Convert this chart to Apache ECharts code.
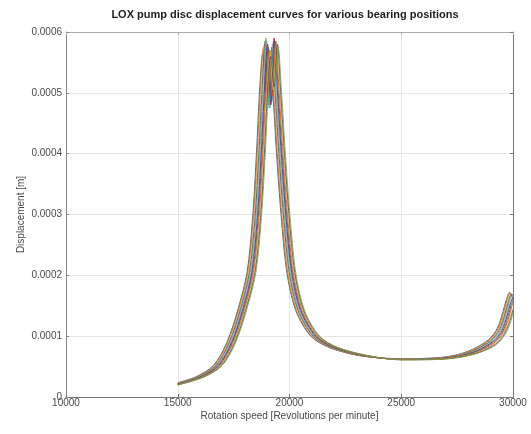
<!DOCTYPE html>
<html>
<head>
<meta charset="utf-8">
<script src="https://cdn.jsdelivr.net/npm/echarts@6/dist/echarts.min.js"></script>
<style>
  html, body { margin: 0; padding: 0; background: #ffffff; }
  #chart { width: 531px; height: 434px; }
</style>
</head>
<body>
<div id="chart"></div>
<script>
// Disc displacement [m] against rotation speed [rpm], one curve per bearing position.
const pos01 = [[15000,2.35e-5],[15800,3.3e-5],[16600,5.2e-5],[17200,9.0e-5],[17700,1.45e-4],[18100,2.05e-4],[18350,2.95e-4],[18520,4.0e-4],[18670,5.1e-4],[18800,5.65e-4],[18950,5.0e-4],[19100,5.5e-4],[19250,5.0e-4],[19420,4.0e-4],[19620,3.0e-4],[19880,2.05e-4],[20280,1.42e-4],[20950,1.0e-4],[21800,8.1e-5],[23200,6.75e-5],[25000,6.3e-5],[26400,6.4e-5],[27400,6.85e-5],[28200,7.85e-5],[28900,9.4e-5],[29300,1.13e-4],[29550,1.40e-4],[29700,1.60e-4],[29850,1.72e-4],[30000,1.60e-4]];
const pos02 = [[15000,2.3e-5],[15835,3.3e-5],[16635,5.2e-5],[17235,9.0e-5],[17735,1.45e-4],[18135,2.05e-4],[18385,2.95e-4],[18555,4.0e-4],[18705,5.1e-4],[18835,5.75e-4],[18985,4.9e-4],[19135,5.6e-4],[19285,5.0e-4],[19455,4.0e-4],[19655,3.0e-4],[19915,2.05e-4],[20315,1.42e-4],[20985,1.0e-4],[21835,8.1e-5],[23235,6.75e-5],[25000,6.28e-5],[26430,6.38e-5],[27430,6.83e-5],[28230,7.83e-5],[28930,9.35e-5],[29330,1.125e-4],[29580,1.39e-4],[29730,1.59e-4],[29880,1.71e-4],[30000,1.63e-4]];
const pos03 = [[15000,2.25e-5],[15870,3.3e-5],[16670,5.2e-5],[17270,9.0e-5],[17770,1.45e-4],[18170,2.05e-4],[18420,2.95e-4],[18590,4.0e-4],[18740,5.1e-4],[18870,5.8e-4],[19020,4.85e-4],[19170,5.7e-4],[19320,5.0e-4],[19490,4.0e-4],[19690,3.0e-4],[19950,2.05e-4],[20350,1.42e-4],[21020,1.0e-4],[21870,8.1e-5],[23270,6.75e-5],[25000,6.25e-5],[26465,6.35e-5],[27465,6.8e-5],[28265,7.8e-5],[28965,9.3e-5],[29365,1.12e-4],[29615,1.38e-4],[29765,1.58e-4],[29915,1.70e-4],[30000,1.66e-4]];
const pos04 = [[15000,2.2e-5],[15910,3.3e-5],[16710,5.2e-5],[17310,9.0e-5],[17810,1.45e-4],[18210,2.05e-4],[18460,2.95e-4],[18630,4.0e-4],[18780,5.1e-4],[18910,5.85e-4],[19060,4.8e-4],[19210,5.75e-4],[19360,5.0e-4],[19530,4.0e-4],[19730,3.0e-4],[19990,2.05e-4],[20390,1.42e-4],[21060,1.0e-4],[21910,8.1e-5],[23310,6.75e-5],[25000,6.22e-5],[26495,6.33e-5],[27495,6.78e-5],[28295,7.75e-5],[28995,9.25e-5],[29395,1.11e-4],[29645,1.37e-4],[29795,1.57e-4],[29945,1.69e-4],[30000,1.675e-4]];
const pos05 = [[15000,2.17e-5],[15945,3.3e-5],[16745,5.2e-5],[17345,9.0e-5],[17845,1.45e-4],[18245,2.05e-4],[18495,2.95e-4],[18665,4.0e-4],[18815,5.1e-4],[18945,5.9e-4],[19095,4.75e-4],[19245,5.8e-4],[19395,5.0e-4],[19565,4.0e-4],[19765,3.0e-4],[20025,2.05e-4],[20425,1.42e-4],[21095,1.0e-4],[21945,8.1e-5],[23345,6.75e-5],[25000,6.2e-5],[26525,6.32e-5],[27525,6.76e-5],[28325,7.7e-5],[29025,9.2e-5],[29425,1.10e-4],[29675,1.36e-4],[29825,1.56e-4],[29975,1.68e-4],[30000,1.675e-4]];
const pos06 = [[15000,2.14e-5],[15980,3.3e-5],[16780,5.2e-5],[17380,9.0e-5],[17880,1.45e-4],[18280,2.05e-4],[18530,2.95e-4],[18700,4.0e-4],[18850,5.1e-4],[18980,5.85e-4],[19130,4.75e-4],[19280,5.85e-4],[19430,5.0e-4],[19600,4.0e-4],[19800,3.0e-4],[20060,2.05e-4],[20460,1.42e-4],[21130,1.0e-4],[21980,8.1e-5],[23380,6.75e-5],[25000,6.2e-5],[26560,6.3e-5],[27560,6.74e-5],[28360,7.65e-5],[29060,9.15e-5],[29460,1.09e-4],[29710,1.35e-4],[29860,1.55e-4],[30000,1.66e-4]];
const pos07 = [[15000,2.1e-5],[16015,3.3e-5],[16815,5.2e-5],[17415,9.0e-5],[17915,1.45e-4],[18315,2.05e-4],[18565,2.95e-4],[18735,4.0e-4],[18885,5.1e-4],[19015,5.8e-4],[19165,4.8e-4],[19315,5.9e-4],[19465,5.0e-4],[19635,4.0e-4],[19835,3.0e-4],[20095,2.05e-4],[20495,1.42e-4],[21165,1.0e-4],[22015,8.1e-5],[23415,6.75e-5],[25000,6.18e-5],[26590,6.28e-5],[27590,6.72e-5],[28390,7.6e-5],[29090,9.1e-5],[29490,1.08e-4],[29740,1.34e-4],[29890,1.54e-4],[30000,1.63e-4]];
const pos08 = [[15000,2.07e-5],[16050,3.3e-5],[16850,5.2e-5],[17450,9.0e-5],[17950,1.45e-4],[18350,2.05e-4],[18600,2.95e-4],[18770,4.0e-4],[18920,5.1e-4],[19050,5.75e-4],[19200,4.85e-4],[19350,5.85e-4],[19500,5.0e-4],[19670,4.0e-4],[19870,3.0e-4],[20130,2.05e-4],[20530,1.42e-4],[21200,1.0e-4],[22050,8.1e-5],[23450,6.75e-5],[25000,6.16e-5],[26625,6.26e-5],[27625,6.7e-5],[28425,7.55e-5],[29125,9.0e-5],[29525,1.07e-4],[29775,1.32e-4],[29925,1.52e-4],[30000,1.59e-4]];
const pos09 = [[15000,2.04e-5],[16090,3.3e-5],[16890,5.2e-5],[17490,9.0e-5],[17990,1.45e-4],[18390,2.05e-4],[18640,2.95e-4],[18810,4.0e-4],[18960,5.1e-4],[19090,5.7e-4],[19240,4.95e-4],[19390,5.85e-4],[19540,5.0e-4],[19710,4.0e-4],[19910,3.0e-4],[20170,2.05e-4],[20570,1.42e-4],[21240,1.0e-4],[22090,8.1e-5],[23490,6.75e-5],[25000,6.15e-5],[26655,6.25e-5],[27655,6.68e-5],[28455,7.5e-5],[29155,8.9e-5],[29555,1.06e-4],[29805,1.30e-4],[29955,1.50e-4],[30000,1.55e-4]];
const pos10 = [[15000,2.02e-5],[16125,3.3e-5],[16925,5.2e-5],[17525,9.0e-5],[18025,1.45e-4],[18425,2.05e-4],[18675,2.95e-4],[18845,4.0e-4],[18995,5.1e-4],[19125,5.65e-4],[19275,5.05e-4],[19425,5.8e-4],[19575,5.0e-4],[19745,4.0e-4],[19945,3.0e-4],[20205,2.05e-4],[20605,1.42e-4],[21275,1.0e-4],[22125,8.1e-5],[23525,6.75e-5],[25000,6.14e-5],[26690,6.22e-5],[27690,6.65e-5],[28490,7.45e-5],[29190,8.8e-5],[29590,1.05e-4],[29840,1.28e-4],[30000,1.46e-4]];
const pos11 = [[15000,2.0e-5],[16160,3.3e-5],[16960,5.2e-5],[17560,9.0e-5],[18060,1.45e-4],[18460,2.05e-4],[18710,2.95e-4],[18880,4.0e-4],[19030,5.1e-4],[19160,5.6e-4],[19310,5.1e-4],[19460,5.8e-4],[19610,5.0e-4],[19780,4.0e-4],[19980,3.0e-4],[20240,2.05e-4],[20640,1.42e-4],[21310,1.0e-4],[22160,8.1e-5],[23560,6.75e-5],[25000,6.12e-5],[26720,6.2e-5],[27720,6.62e-5],[28520,7.4e-5],[29220,8.7e-5],[29620,1.04e-4],[29870,1.26e-4],[30000,1.43e-4]];
const pos12 = [[15000,1.97e-5],[16195,3.3e-5],[16995,5.2e-5],[17595,9.0e-5],[18095,1.45e-4],[18495,2.05e-4],[18745,2.95e-4],[18915,4.0e-4],[19065,5.1e-4],[19195,5.55e-4],[19345,5.15e-4],[19495,5.75e-4],[19645,5.0e-4],[19815,4.0e-4],[20015,3.0e-4],[20275,2.05e-4],[20675,1.42e-4],[21345,1.0e-4],[22195,8.1e-5],[23595,6.75e-5],[25000,6.1e-5],[26750,6.18e-5],[27750,6.6e-5],[28550,7.35e-5],[29250,8.6e-5],[29650,1.03e-4],[29900,1.24e-4],[30000,1.40e-4]];

const bearingPositions = [pos01, pos02, pos03, pos04, pos05, pos06, pos07, pos08, pos09, pos10, pos11, pos12];

// Axis ranges and tick spacing
const speedRange = [10000, 30000];
const speedStep = 5000;
const dispRange = [0, 0.0006];
const dispStep = 0.0001;

const chartTitle = 'LOX pump disc displacement curves for various bearing positions';
const xName = 'Rotation speed [Revolutions per minute]';
const yName = 'Displacement [m]';

// Default line colour order of the plotting tool
const lineColors = ['#0072BD', '#D95319', '#EDB120', '#7E2F8E', '#77AC30', '#4DBEEE', '#A2142F'];

const FONT = 'Liberation Sans, Arial, Helvetica, sans-serif';
const TEXT = '#4a4a4a';

const chart = echarts.init(document.getElementById('chart'), null, { renderer: 'canvas' });

const gridBox = { left: 66, right: 18, top: 32, bottom: 37 };

function boxAxis(position, color) {
  return {
    type: 'value',
    position: position,
    min: position === 'top' ? speedRange[0] : dispRange[0],
    max: position === 'top' ? speedRange[1] : dispRange[1],
    interval: position === 'top' ? speedStep : dispStep,
    axisLine: { show: true, onZero: false, lineStyle: { color: color, width: 1 } },
    axisTick: { show: true, inside: true, length: 3, lineStyle: { color: color } },
    axisLabel: { show: false },
    splitLine: { show: false }
  };
}

chart.setOption({
  animation: false,
  backgroundColor: '#ffffff',
  color: lineColors,
  textStyle: { fontFamily: FONT },
  graphic: [{
    type: 'text',
    x: 285,
    y: 15,
    style: {
      text: chartTitle,
      fill: '#1e1e1e',
      font: 'bold 11px ' + FONT,
      textAlign: 'center',
      textVerticalAlign: 'middle',
      align: 'center',
      verticalAlign: 'middle'
    }
  }],
  grid: gridBox,
  xAxis: [
    {
      type: 'value',
      position: 'bottom',
      min: speedRange[0],
      max: speedRange[1],
      interval: speedStep,
      name: xName,
      nameLocation: 'middle',
      nameGap: 14,
      nameMoveOverlap: false,
      nameTextStyle: { fontSize: 10, color: TEXT, fontFamily: FONT },
      axisLine: { show: true, onZero: false, lineStyle: { color: '#777', width: 1 } },
      axisTick: { show: true, inside: true, length: 3, lineStyle: { color: '#777' } },
      axisLabel: { fontSize: 10, color: TEXT, margin: 1, fontFamily: FONT, formatter: v => String(v) },
      splitLine: { show: true, lineStyle: { color: '#e6e6e6', width: 1 } }
    },
    boxAxis('top', '#aaa')
  ],
  yAxis: [
    {
      type: 'value',
      position: 'left',
      min: dispRange[0],
      max: dispRange[1],
      interval: dispStep,
      name: yName,
      nameLocation: 'middle',
      nameGap: 40,
      nameMoveOverlap: false,
      nameTextStyle: { fontSize: 10, color: TEXT, fontFamily: FONT },
      axisLine: { show: true, onZero: false, lineStyle: { color: '#888', width: 1 } },
      axisTick: { show: true, inside: true, length: 3, lineStyle: { color: '#888' } },
      axisLabel: {
        fontSize: 10, color: TEXT, margin: 4, fontFamily: FONT,
        formatter: v => (v === 0 ? '0' : v.toFixed(4))
      },
      splitLine: { show: true, lineStyle: { color: '#e6e6e6', width: 1 } }
    },
    boxAxis('right', '#777')
  ],
  series: bearingPositions.map((pts, i) => ({
    type: 'line',
    name: 'Position ' + (i + 1),
    data: pts,
    xAxisIndex: 0,
    yAxisIndex: 0,
    showSymbol: false,
    smooth: 0.3,
    lineStyle: { width: 0.9 },
    emphasis: { disabled: true }
  }))
});
</script>
</body>
</html>
